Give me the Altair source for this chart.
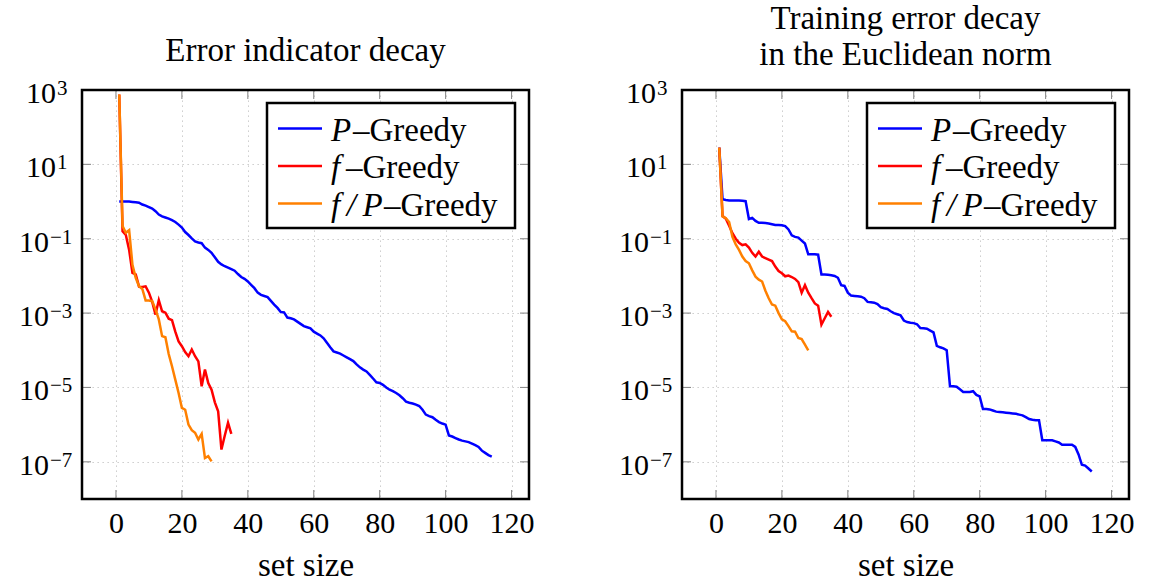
import altair as alt
import pandas as pd

# ---------------------------------------------------------------------------
# Data: log10 of the error read per set size n = 1, 2, ...
# ---------------------------------------------------------------------------
indicator_p_greedy = [
    0.00, 0.00, 0.00, 0.00, -0.01, -0.02, -0.03, -0.08, -0.11, -0.15,
    -0.19, -0.26, -0.35, -0.40, -0.43, -0.46, -0.50, -0.55, -0.62, -0.70,
    -0.82, -0.90, -0.99, -1.07, -1.10, -1.12, -1.24, -1.30, -1.38, -1.50,
    -1.62, -1.69, -1.74, -1.78, -1.82, -1.86, -1.95, -2.03, -2.08, -2.15,
    -2.24, -2.33, -2.45, -2.51, -2.54, -2.57, -2.67, -2.77, -2.86, -2.97,
    -2.98, -3.12, -3.14, -3.17, -3.23, -3.29, -3.35, -3.38, -3.41, -3.50,
    -3.55, -3.60, -3.68, -3.80, -3.92, -4.03, -4.06, -4.09, -4.14, -4.19,
    -4.24, -4.29, -4.38, -4.46, -4.52, -4.57, -4.66, -4.76, -4.86, -4.88,
    -4.93, -5.00, -5.06, -5.10, -5.15, -5.21, -5.29, -5.38, -5.41, -5.43,
    -5.46, -5.50, -5.60, -5.73, -5.77, -5.80, -5.87, -5.93, -5.97, -6.00,
    -6.29, -6.32, -6.36, -6.40, -6.43, -6.45, -6.47, -6.51, -6.55, -6.60,
    -6.70, -6.76, -6.82, -6.86,
]
indicator_f_greedy = [
    2.88, -0.80, -0.90, -1.30, -1.92, -1.96, -2.29, -2.30, -2.28, -2.45,
    -2.70, -3.04, -2.65, -2.95, -2.99, -3.15, -3.19, -3.50, -3.76, -3.89,
    -4.05, -4.16, -3.98, -4.16, -4.30, -4.97, -4.52, -4.88, -5.06, -5.40,
    -5.64, -6.67, -6.30, -5.95, -6.25,
]
indicator_fp_greedy = [
    2.88, -0.66, -0.84, -0.77, -1.70, -2.05, -2.28, -2.35, -2.66, -2.66,
    -2.68, -2.90, -3.17, -3.62, -3.65, -4.10, -4.43, -4.79, -5.15, -5.55,
    -5.60, -6.00, -6.15, -6.22, -6.40, -6.25, -6.90, -6.85, -6.99,
]

training_p_greedy = [
    1.45, 0.06, 0.04, 0.03, 0.03, 0.03, 0.03, 0.02, 0.01, -0.47,
    -0.44, -0.52, -0.57, -0.57, -0.58, -0.59, -0.61, -0.63, -0.63, -0.64,
    -0.66, -0.75, -0.91, -0.95, -0.97, -1.05, -1.13, -1.42, -1.42, -1.42,
    -1.43, -1.96, -1.96, -1.97, -1.98, -2.00, -2.05, -2.25, -2.27, -2.45,
    -2.53, -2.54, -2.55, -2.56, -2.60, -2.70, -2.71, -2.72, -2.76, -2.84,
    -2.87, -2.89, -2.95, -3.00, -3.03, -3.06, -3.20, -3.24, -3.26, -3.27,
    -3.30, -3.40, -3.41, -3.42, -3.47, -3.52, -3.88, -3.92, -3.95, -4.00,
    -4.97, -4.97, -4.98, -5.05, -5.12, -5.12, -5.12, -5.10, -5.20, -5.24,
    -5.58, -5.58, -5.59, -5.62, -5.65, -5.66, -5.67, -5.68, -5.69, -5.70,
    -5.71, -5.73, -5.75, -5.80, -5.85, -5.87, -5.88, -5.88, -6.42, -6.42,
    -6.42, -6.42, -6.45, -6.48, -6.54, -6.54, -6.54, -6.54, -6.60, -6.80,
    -7.08, -7.10, -7.18, -7.26,
]
training_f_greedy = [
    1.45, -0.39, -0.46, -0.65, -0.85, -1.00, -1.11, -1.17, -1.15, -1.24,
    -1.38, -1.48, -1.35, -1.48, -1.52, -1.56, -1.60, -1.75, -1.87, -1.93,
    -2.01, -1.99, -2.03, -2.08, -2.17, -2.45, -2.25, -2.45, -2.60, -2.74,
    -2.80, -3.31, -3.14, -2.97, -3.10,
]
training_fp_greedy = [
    1.45, -0.40, -0.45, -0.55, -0.95, -1.15, -1.30, -1.48, -1.60, -1.66,
    -1.85, -2.02, -2.10, -2.15, -2.40, -2.60, -2.77, -2.80, -3.00, -3.17,
    -3.22, -3.35, -3.49, -3.50, -3.67, -3.70, -3.85, -4.00,
]

# Axis ticks and labels
x_ticks = [0, 20, 40, 60, 80, 100, 120]
y_ticks = [1e3, 1e1, 1e-1, 1e-3, 1e-5, 1e-7]
y_tick_exponents = ["3", "1", "\u22121", "\u22123", "\u22125", "\u22127"]

# Series legend: italic symbol part and roman part
legend_symbol = ["P", "f", "f\u2009/\u2009P"]
legend_suffix = ["\u2013Greedy", "\u2013Greedy", "\u2013Greedy"]
series_colors = ["#0000ff", "#ff0000", "#ff8000"]

# ---------------------------------------------------------------------------
# Layout / style
# ---------------------------------------------------------------------------
FONT = "Liberation Serif"
TEXT_SIZE = 33
NUM_SIZE = 30
LINE_WIDTH = 2.5
W, H = 447, 409
X_DOMAIN = [-10.3, 125.3]
Y_DOMAIN = [1e-8, 1e3]
TICK_LEN = 9
TICK_COLOR = "#8c8c8c"

x_enc = alt.X(
    "n:Q",
    scale=alt.Scale(domain=X_DOMAIN, nice=False, zero=False),
    axis=alt.Axis(
        values=x_ticks, title="set size", grid=True, ticks=False, tickSize=0,
        domain=False, labelPadding=9, titlePadding=11, labelFlush=False,
    ),
)
y_enc = alt.Y(
    "v:Q",
    scale=alt.Scale(type="log", domain=Y_DOMAIN, nice=False),
    axis=alt.Axis(values=y_ticks[1:], labels=False, ticks=False, tickSize=0,
                  domain=False, grid=True, title=None),
)


def series_frame(logs):
    return pd.DataFrame({"n": list(range(1, len(logs) + 1)),
                         "v": [10 ** e for e in logs]})


def panel(title, curves, title_offset):
    layers = []
    for logs, color in zip(curves, series_colors):
        layers.append(
            alt.Chart(series_frame(logs))
            .mark_line(color=color, strokeWidth=LINE_WIDTH)
            .encode(x=x_enc, y=y_enc)
        )

    # inward tick marks on all four sides
    xt = pd.DataFrame({"n": x_ticks})
    yt = pd.DataFrame({"v": y_ticks})
    rule = dict(color=TICK_COLOR, strokeWidth=1.1)
    layers += [
        alt.Chart(xt).mark_rule(**rule).encode(
            x=x_enc, y=alt.value(H - TICK_LEN), y2=alt.value(H)),
        alt.Chart(xt).mark_rule(**rule).encode(
            x=x_enc, y=alt.value(0), y2=alt.value(TICK_LEN)),
        alt.Chart(yt).mark_rule(**rule).encode(
            y=y_enc, x=alt.value(0), x2=alt.value(TICK_LEN)),
        alt.Chart(yt).mark_rule(**rule).encode(
            y=y_enc, x=alt.value(W - TICK_LEN), x2=alt.value(W)),
    ]

    # y tick labels written as 10 with a raised exponent
    labels = pd.DataFrame({"v": y_ticks, "exp": y_tick_exponents})
    negative = labels["exp"].str.startswith("\u2212")
    for part, right_edge in ((labels[~negative], -26), (labels[negative], -33)):
        layers.append(
            alt.Chart(part).mark_text(align="right", baseline="middle", dy=4,
                                      font=FONT, fontSize=NUM_SIZE, color="black")
            .encode(y=y_enc, x=alt.value(right_edge), text=alt.value("10"))
        )
        layers.append(
            alt.Chart(part).mark_text(align="left", baseline="middle", dy=-1,
                                      font=FONT, fontSize=21, color="black")
            .encode(y=y_enc, x=alt.value(right_edge + 1), text="exp:N")
        )

    # legend box
    one = pd.DataFrame({"k": [0]})
    layers.append(
        alt.Chart(one).mark_rect(fill="white", stroke="black", strokeWidth=2.5)
        .encode(x=alt.value(185), x2=alt.value(433), y=alt.value(13), y2=alt.value(138))
    )
    symbol_width = [22, 15, 53]
    for i, (sym, suf, color) in enumerate(zip(legend_symbol, legend_suffix, series_colors)):
        row_y = 38.5 + 37.5 * i
        layers.append(
            alt.Chart(one).mark_rule(color=color, strokeWidth=LINE_WIDTH)
            .encode(x=alt.value(196), x2=alt.value(240), y=alt.value(row_y))
        )
        layers.append(
            alt.Chart(one).mark_text(align="left", baseline="middle", dy=2, font=FONT,
                                     fontSize=TEXT_SIZE, fontStyle="italic", color="black")
            .encode(x=alt.value(249), y=alt.value(row_y), text=alt.value(sym))
        )
        layers.append(
            alt.Chart(one).mark_text(align="left", baseline="middle", dy=2, font=FONT,
                                     fontSize=TEXT_SIZE, color="black")
            .encode(x=alt.value(249 + symbol_width[i]), y=alt.value(row_y), text=alt.value(suf))
        )

    # plot frame on top of everything
    layers.append(
        alt.Chart(one).mark_rect(fillOpacity=0, stroke="black", strokeWidth=2.5)
        .encode(x=alt.value(0), x2=alt.value(W), y=alt.value(0), y2=alt.value(H))
    )

    return alt.layer(*layers).properties(
        width=W, height=H,
        title=alt.TitleParams(text=title, font=FONT, fontSize=TEXT_SIZE, fontWeight="normal",
                              color="black", offset=title_offset, lineHeight=36,
                              anchor="middle", frame="group"),
    )


left = panel("Error indicator decay",
             [indicator_p_greedy, indicator_f_greedy, indicator_fp_greedy], 10)
right = panel(["Training error decay", "in the Euclidean norm"],
              [training_p_greedy, training_f_greedy, training_fp_greedy], 6)

chart = (
    alt.hconcat(left, right, spacing=153)
    .properties(bounds="flush", padding={"left": 19, "top": 3, "right": 14, "bottom": 5})
    .configure_view(strokeWidth=0)
    .configure_axis(
        labelFont=FONT, labelFontSize=NUM_SIZE, labelColor="black",
        titleFont=FONT, titleFontSize=TEXT_SIZE, titleFontWeight="normal", titleColor="black",
        gridColor="#c4c4c4", gridDash=[1.3, 3.7], gridWidth=1,
    )
)

chart.save("out.html", embed_options={"renderer": "svg", "actions": False})
